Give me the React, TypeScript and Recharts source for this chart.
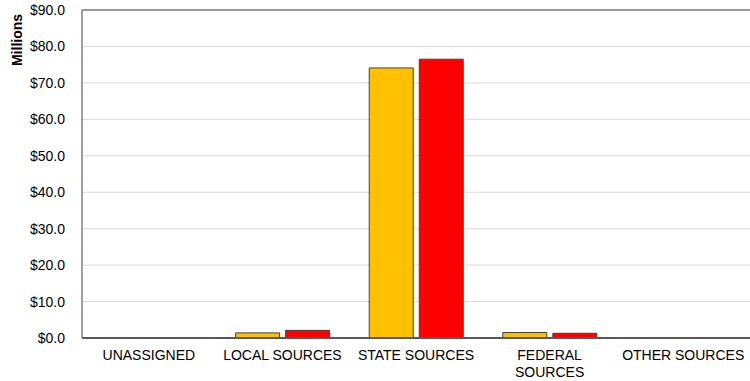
import React from 'react';
import { BarChart, Bar, XAxis, YAxis, CartesianGrid, ReferenceLine } from 'recharts';

// Revenue by source, in millions of dollars
const categories = ['UNASSIGNED', 'LOCAL SOURCES', 'STATE SOURCES', 'FEDERAL SOURCES', 'OTHER SOURCES'];
const priorYear = [0, 1.4, 74.1, 1.5, 0];
const currentYear = [0, 2.1, 76.5, 1.3, 0.05];
const yTicks = [0, 10, 20, 30, 40, 50, 60, 70, 80, 90];
// Category labels as they are broken onto lines under the axis
const tickLines: Record<string, string[]> = {
  'UNASSIGNED': ['UNASSIGNED'],
  'LOCAL SOURCES': ['LOCAL SOURCES'],
  'STATE SOURCES': ['STATE SOURCES'],
  'FEDERAL SOURCES': ['FEDERAL', 'SOURCES'],
  'OTHER SOURCES': ['OTHER SOURCES'],
};

const data = categories.map((name, i) => ({
  name,
  prior: priorYear[i],
  current: currentYear[i],
}));

const FONT = '"Liberation Sans", Arial, sans-serif';

const CategoryTick = (props: any) => {
  const { x, y, payload } = props;
  const lines = tickLines[payload.value] ?? [payload.value];
  return (
    <g transform={`translate(${x},${y})`}>
      {lines.map((line, i) => (
        <text
          key={i}
          x={0}
          y={14 + i * 16.5}
          textAnchor="middle"
          fontFamily={FONT}
          fontSize={14}
          fill="#000"
        >
          {line}
        </text>
      ))}
    </g>
  );
};

export default function App() {
  return (
    <div style={{ position: 'absolute', left: 0, top: 0, width: 750, height: 381, background: '#fff' }}>
      <BarChart
        width={750}
        height={381}
        data={data}
        margin={{ top: 10, right: 0, bottom: 0, left: 0 }}
        barCategoryGap="15%"
        barGap={6}
      >
        <CartesianGrid vertical={false} stroke="#d9d9d9" strokeWidth={1} />
        <XAxis
          dataKey="name"
          height={43}
          interval={0}
          tickLine={false}
          axisLine={{ stroke: '#595959', strokeWidth: 2 }}
          tick={<CategoryTick />}
        />
        <YAxis
          width={82}
          domain={[0, 90]}
          ticks={yTicks}
          interval={0}
          tickLine={false}
          tickSize={0}
          tickMargin={17}
          axisLine={{ stroke: '#7f7f7f', strokeWidth: 1.5 }}
          tickFormatter={(v: number) => `$${v.toFixed(1)}`}
          tick={{ fontFamily: FONT, fontSize: 14, fill: '#000' }}
          label={{
            content: () => (
              <text
                x={22}
                y={40}
                transform="rotate(-90, 22, 40)"
                textAnchor="middle"
                fontFamily={FONT}
                fontSize={14}
                fontWeight="bold"
                fill="#000"
              >
                Millions
              </text>
            ),
          }}
        />
        <ReferenceLine y={90} stroke="#7f7f7f" strokeWidth={1.5} ifOverflow="extendDomain" />
        <Bar dataKey="prior" name="Prior Year" fill="#FFC000" stroke="#404040" strokeWidth={1} isAnimationActive={false} />
        <Bar dataKey="current" name="Current Year" fill="#FF0000" stroke="#404040" strokeWidth={1} isAnimationActive={false} />
      </BarChart>
    </div>
  );
}
